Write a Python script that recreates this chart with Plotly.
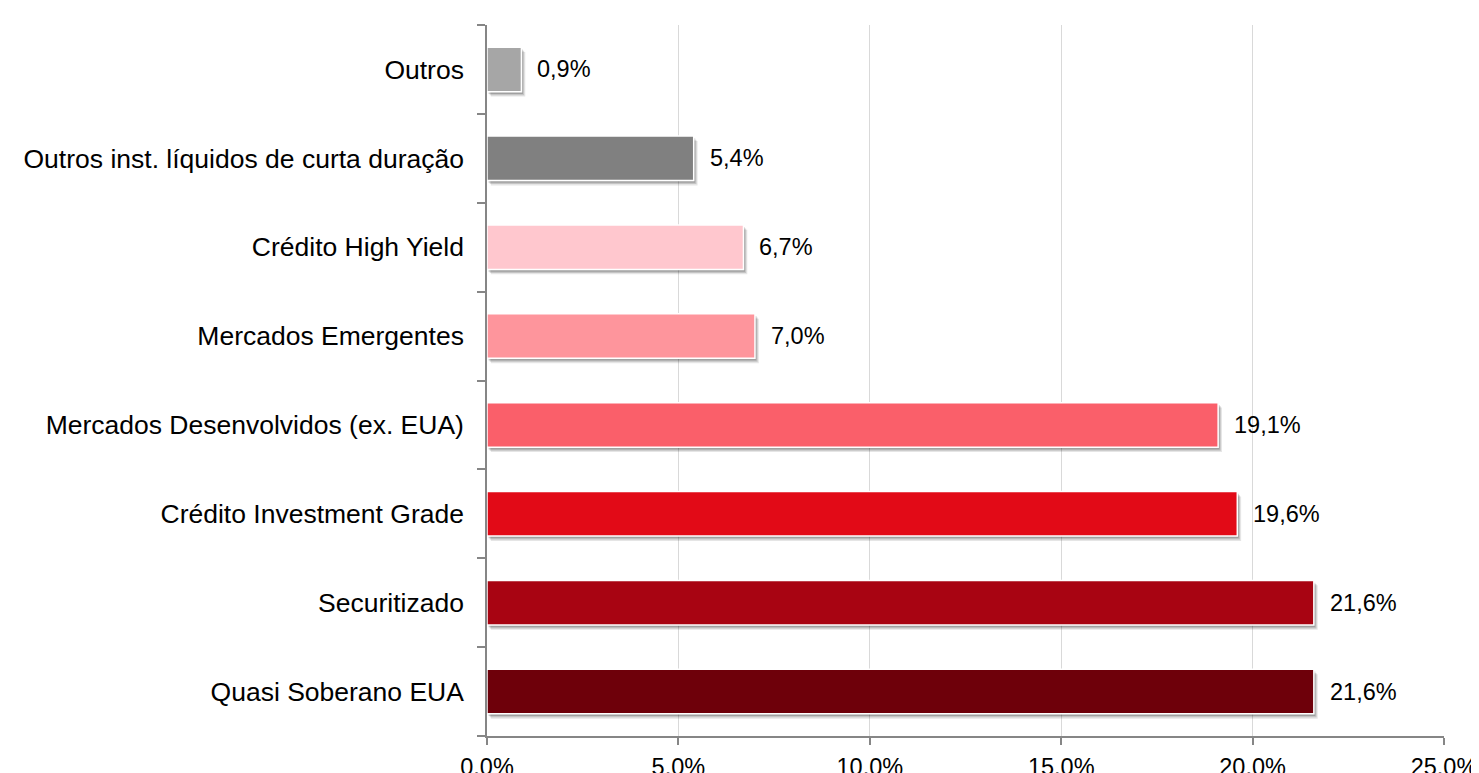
import plotly.graph_objects as go

# Data (bottom to top)
categories = [
    "Quasi Soberano EUA",
    "Securitizado",
    "Crédito Investment Grade",
    "Mercados Desenvolvidos (ex. EUA)",
    "Mercados Emergentes",
    "Crédito High Yield",
    "Outros inst. líquidos de curta duração",
    "Outros",
]
values = [21.6, 21.6, 19.6, 19.1, 7.0, 6.7, 5.4, 0.9]
colors = ["#6E000A", "#A80412", "#E20A17", "#FA5F6A", "#FE959C",
          "#FFC7CE", "#808080", "#A6A6A6"]
x_ticks = [0, 5, 10, 15, 20, 25]
x_tick_labels = ["0.0%", "5.0%", "10.0%", "15.0%", "20.0%", "25.0%"]
value_labels = [f"{v:.1f}".replace(".", ",") + "%" for v in values]

FONT = "Liberation Sans, Arial, sans-serif"
BAR_W = 0.5

fig = go.Figure()

# soft drop shadows
for dx, dy, a in [(0.10, 0.055, 0.10), (0.07, 0.040, 0.14), (0.04, 0.025, 0.18)]:
    fig.add_trace(go.Bar(
        x=values, y=categories, orientation="h", base=dx,
        width=BAR_W, offset=-BAR_W / 2 - dy,
        marker=dict(color=f"rgba(0,0,0,{a})", line=dict(width=0)),
        hoverinfo="skip", showlegend=False,
    ))

fig.add_trace(go.Bar(
    x=values, y=categories, orientation="h",
    width=BAR_W, offset=-BAR_W / 2,
    marker=dict(color=colors, line=dict(color="white", width=1.5)),
    showlegend=False,
))

for v, c, t in zip(values, categories, value_labels):
    fig.add_annotation(x=v, y=c, text=t, showarrow=False, xanchor="left",
                       xshift=14, font=dict(family=FONT, size=23.5, color="#000000"))

fig.update_layout(
    width=1471, height=765,
    margin=dict(l=479, r=35, t=17, b=37),
    paper_bgcolor="white", plot_bgcolor="white",
    barmode="overlay",
    font=dict(family=FONT, color="#000000"),
    xaxis=dict(
        range=[0, 25], tickvals=x_ticks, ticktext=x_tick_labels,
        showgrid=True, gridcolor="#D9D9D9", gridwidth=1,
        showline=True, linecolor="#868686", linewidth=1.5,
        ticks="outside", ticklen=7, tickcolor="#868686", tickwidth=1.5,
        ticklabelstandoff=2,
        tickfont=dict(family=FONT, size=23.5, color="#000000"),
        zeroline=False, automargin=False, fixedrange=True,
    ),
    yaxis=dict(
        categoryorder="array", categoryarray=categories,
        range=[-0.5, len(categories) - 0.5],
        showline=True, linecolor="#868686", linewidth=1.5,
        ticks="outside", ticklen=8, tickcolor="#868686", tickwidth=1.5,
        tickson="boundaries", ticklabelstandoff=16,
        tickfont=dict(family=FONT, size=26.5, color="#000000"),
        showgrid=False, zeroline=False, automargin=False, fixedrange=True,
    ),
)

fig.write_html("out.html")
